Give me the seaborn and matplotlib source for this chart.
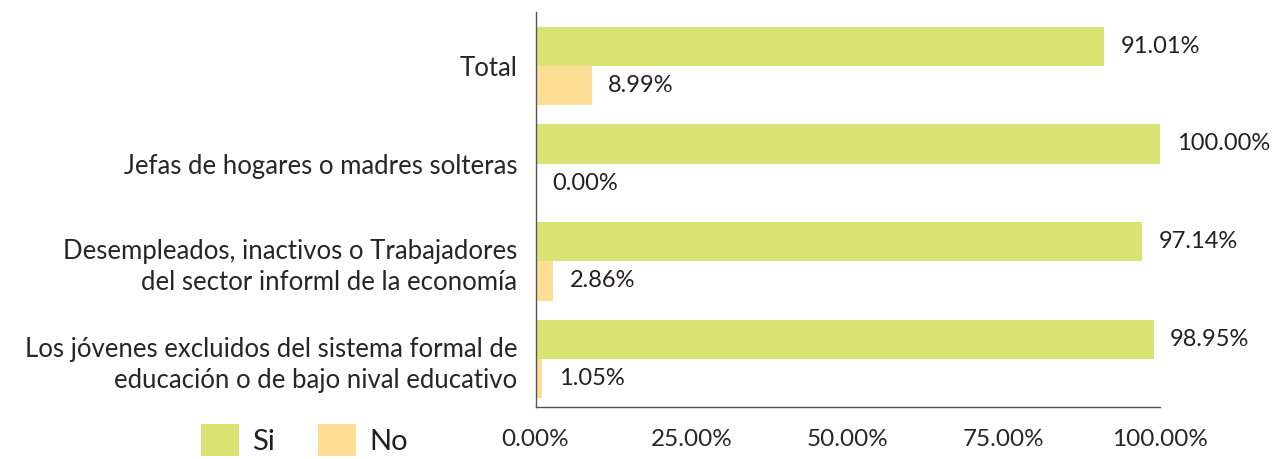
import pandas as pd
import matplotlib
matplotlib.use("Agg")
import matplotlib.pyplot as plt
import seaborn as sns
from matplotlib.patches import Patch

# data
categories = [
    "Total",
    "Jefas de hogares o madres solteras",
    "Desempleados, inactivos o Trabajadores\ndel sector informl de la economía",
    "Los jóvenes excluidos del sistema formal de\neducación o de bajo nival educativo",
]
si_values = [91.01, 100.00, 97.14, 98.95]
no_values = [8.99, 0.00, 2.86, 1.05]
series_names = ["Si", "No"]
x_ticks = [0, 25, 50, 75, 100]

colors = {"Si": "#dbe375", "No": "#fedd94"}

df = pd.DataFrame({
    "Categoria": categories * 2,
    "Respuesta": ["Si"] * len(categories) + ["No"] * len(categories),
    "Valor": si_values + no_values,
})

sns.set_style("white")
plt.rcParams["font.family"] = ["Lato", "DejaVu Sans"]
plt.rcParams["text.color"] = "#231f20"

fig = plt.figure(figsize=(12.73, 4.59), dpi=100)
ax = fig.add_axes([0.4207, 0.113, 0.4906, 0.861])

sns.barplot(data=df, y="Categoria", x="Valor", hue="Respuesta", order=categories,
            hue_order=series_names, palette=colors, orient="h", ax=ax,
            width=0.8, saturation=1, edgecolor="none", legend=False, errorbar=None)

for cont in ax.containers:
    ax.bar_label(cont, fmt="%.2f%%", padding=12, fontsize=17, color="#231f20")

ax.set_xlim(0, 100)
ax.set_ylim(3.49, -0.55)
ax.set_xticks(x_ticks)
ax.set_xticklabels([f"{t:.2f}%" for t in x_ticks], fontsize=17.5)
ax.tick_params(axis="x", direction="out", length=6, width=1, color="#555555", pad=10)
ax.tick_params(axis="y", length=0, pad=13, labelsize=18.5)
for lbl in ax.get_yticklabels():
    lbl.set_horizontalalignment("right")
    lbl.set_multialignment("right")
    lbl.set_linespacing(1.3)
ax.set_xlabel("")
ax.set_ylabel("")

sns.despine(ax=ax)
for s in ["left", "bottom"]:
    ax.spines[s].set_color("#555555")
    ax.spines[s].set_linewidth(1)

handles = [Patch(facecolor=colors[n], edgecolor="none") for n in series_names]
fig.legend(handles, series_names, loc="lower left", bbox_to_anchor=(0.137, -0.05),
           ncol=2, frameon=False, fontsize=21, handlelength=1.3, handleheight=1.3,
           columnspacing=1.5, handletextpad=0.45)

fig.savefig("out.png", dpi=100)
